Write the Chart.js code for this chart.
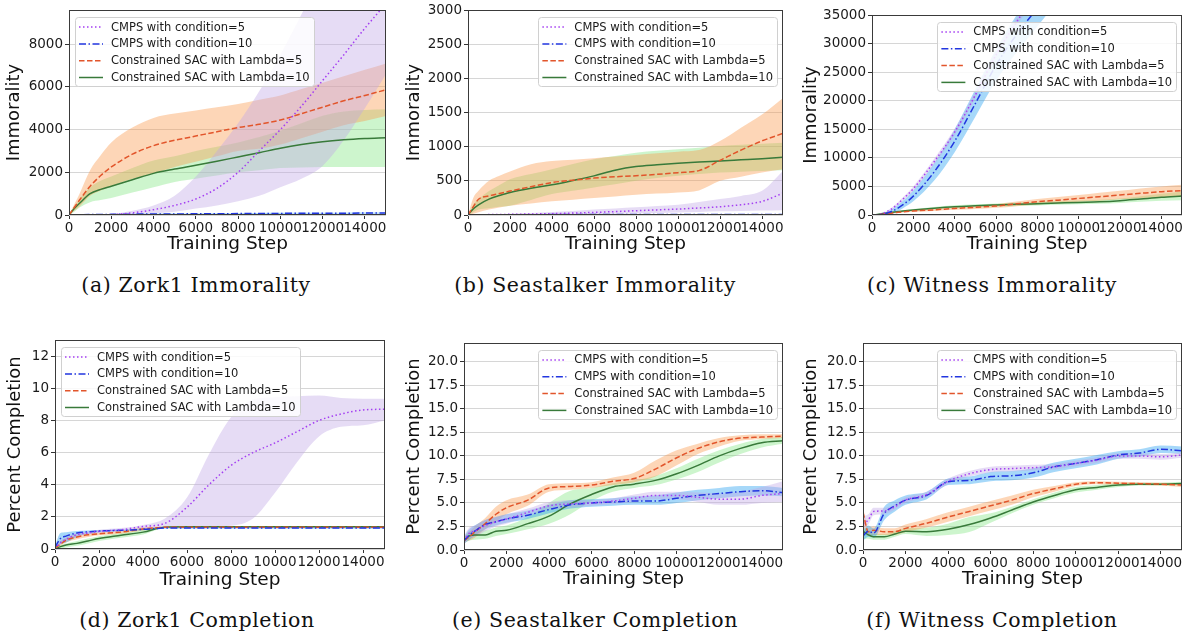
<!DOCTYPE html>
<html>
<head>
<meta charset="utf-8">
<script src="https://cdn.jsdelivr.net/npm/chart.js@4.4.1/dist/chart.umd.min.js"></script>
<style>
  body { margin: 0; background: #fff; }
  #fig { position: relative; width: 1185px; height: 634px; overflow: hidden; }
  canvas { position: absolute; }
  .cap { position: absolute; width: 380px; text-align: center; font-family: "DejaVu Serif", serif; font-size: 20.5px; letter-spacing: 0.6px; color: #111; line-height: 24px; }
</style>
</head>
<body>
<div id="fig">
  <canvas id="zorkImm"></canvas>
  <canvas id="seaImm"></canvas>
  <canvas id="witImm"></canvas>
  <canvas id="zorkComp"></canvas>
  <canvas id="seaComp"></canvas>
  <canvas id="witComp"></canvas>
  <div class="cap" style="left:6px;top:273px">(a) Zork1 Immorality</div>
  <div class="cap" style="left:405px;top:273px">(b) Seastalker Immorality</div>
  <div class="cap" style="left:802px;top:273px">(c) Witness Immorality</div>
  <div class="cap" style="left:7px;top:608px">(d) Zork1 Completion</div>
  <div class="cap" style="left:405px;top:608px">(e) Seastalker Completion</div>
  <div class="cap" style="left:802px;top:608px">(f) Witness Completion</div>
</div>
<script>
// training steps shared by every panel
const steps = [0,250,500,1000,1500,2000,3000,4000,5000,6000,7000,8000,9000,10000,11000,12000,13000,14000,15000]
const seriesNames = ['CMPS with condition=5', 'CMPS with condition=10', 'Constrained SAC with Lambda=5', 'Constrained SAC with Lambda=10']

// tick values
const stepTicks = [0,2000,4000,6000,8000,10000,12000,14000]
const zorkImmTicks = [0,2000,4000,6000,8000]
const seaImmTicks = [0,500,1000,1500,2000,2500,3000]
const witImmTicks = [0,5000,10000,15000,20000,25000,30000,35000]
const zorkCompTicks = [0,2,4,6,8,10,12]
const pctTicks = [0,2.5,5,7.5,10,12.5,15,17.5,20]

// (a) Zork1 immorality
const zorkImm_cmps5    = [0,0,0,5,10,20,100,250,450,750,1250,2000,3000,4000,5100,6300,7500,8750,9900]
const zorkImm_cmps5_lo = [0,0,0,0,0,5,30,80,150,300,450,650,900,1300,1700,2300,3500,5000,6600]
const zorkImm_cmps5_hi = [0,0,0,10,20,40,200,450,900,1800,3000,4300,5800,7500,9400,11500,13500,15500,17000]
const zorkImm_cmps10    = [0,5,10,20,25,30,40,45,50,55,60,65,70,75,80,80,85,90,90]
const zorkImm_cmps10_lo = [0,0,0,5,10,15,20,25,30,35,40,45,50,50,55,55,60,60,60]
const zorkImm_cmps10_hi = [0,10,20,35,40,45,60,65,70,75,80,85,90,100,105,105,110,120,120]
const zorkImm_sac5    = [0,350,700,1350,1850,2250,2850,3250,3500,3700,3900,4100,4250,4450,4750,5050,5350,5600,5870]
const zorkImm_sac5_lo = [0,200,400,900,1150,1350,1700,1950,2250,2500,2750,3000,3100,3300,3600,3900,4200,4400,4640]
const zorkImm_sac5_hi = [0,500,1000,2100,2800,3400,4100,4550,4750,4900,5050,5200,5400,5600,5900,6200,6500,6800,7100]
const zorkImm_sac10    = [0,300,550,1000,1200,1350,1650,1950,2150,2330,2520,2720,2920,3130,3300,3430,3520,3580,3620]
const zorkImm_sac10_lo = [0,150,350,600,700,800,1050,1300,1550,1700,1850,2000,2100,2200,2230,2250,2250,2250,2250]
const zorkImm_sac10_hi = [0,400,750,1300,1600,1800,2200,2550,2750,3000,3200,3400,3650,3950,4300,4650,4850,4920,4950]

// (b) Seastalker immorality
const seaImm_cmps5    = [0,2,4,6,8,10,15,20,28,38,50,63,75,87,103,121,150,199,320]
const seaImm_cmps5_lo = [0,0,0,1,2,3,5,7,10,14,18,22,28,35,45,55,60,65,70]
const seaImm_cmps5_hi = [0,4,8,12,16,20,30,45,60,80,95,112,130,150,190,233,280,354,645]
const seaImm_cmps10    = [0,2,3,4,4,5,5,6,6,6,7,7,7,8,8,8,8,9,9]
const seaImm_cmps10_lo = [0,0,1,2,2,3,3,3,3,3,4,4,4,4,4,4,4,5,5]
const seaImm_cmps10_hi = [0,4,5,6,6,7,7,8,8,9,10,10,10,11,11,12,12,13,13]
const seaImm_sac5    = [0,120,230,280,315,350,415,475,510,540,560,575,595,620,650,800,950,1085,1195]
const seaImm_sac5_lo = [0,20,40,80,110,136,170,200,225,248,272,296,313,330,360,500,560,621,670]
const seaImm_sac5_hi = [0,250,354,500,573,636,743,790,810,830,855,879,903,927,950,1083,1277,1471,1714]
const seaImm_sac10    = [0,90,150,233,285,330,393,442,505,573,655,709,735,757,775,791,808,825,845]
const seaImm_sac10_lo = [0,40,80,100,120,136,220,306,355,403,450,500,540,573,600,621,635,646,655]
const seaImm_sac10_hi = [0,150,230,350,440,524,600,670,745,815,865,913,940,961,985,1010,1027,1044,1058]

// (c) Witness immorality
const witImm_cmps5    = [0,60,250,1200,2800,4600,9300,14500,21000,28000,33800,39000,44000,49000,54000,59000,64000,69000,74000]
const witImm_cmps5_lo = [0,40,180,1000,2500,4200,8800,13900,20400,27300,33100,38300,43300,48300,53300,58300,63300,68300,73300]
const witImm_cmps5_hi = [0,80,320,1400,3100,5000,9800,15100,21600,28700,34500,39700,44700,49700,54700,59700,64700,69700,74700]
const witImm_cmps10    = [0,30,120,700,1800,3300,7500,12900,19500,26200,31600,36200,41000,46000,51000,56000,61000,66000,71000]
const witImm_cmps10_lo = [0,10,40,350,1200,2400,6000,11000,17200,23500,28500,33000,37500,42000,47000,52000,57000,62000,67000]
const witImm_cmps10_hi = [0,60,250,1100,2500,4300,9000,15000,22000,29000,35000,40000,45000,50000,55000,60000,65000,70000,75000]
const witImm_sac5    = [0,50,150,350,550,700,900,1150,1350,1575,1950,2330,2600,2900,3200,3500,3800,4080,4260]
const witImm_sac5_lo = [0,30,110,270,440,550,700,900,1050,1250,1550,1850,2050,2300,2500,2750,2950,3150,3250]
const witImm_sac5_hi = [0,70,190,430,660,850,1100,1400,1650,1900,2350,2800,3150,3500,3900,4250,4650,5000,5300]
const witImm_sac10    = [0,100,250,500,700,875,1200,1460,1620,1750,1870,1980,2090,2200,2300,2500,2800,3100,3330]
const witImm_sac10_lo = [0,70,180,380,550,700,1000,1220,1360,1480,1590,1680,1780,1880,1950,2100,2300,2500,2600]
const witImm_sac10_hi = [0,130,320,620,850,1050,1400,1700,1880,2020,2150,2280,2400,2520,2650,2900,3300,3700,4100]

// (d) Zork1 completion
const zorkComp_cmps5    = [0,0.4,0.6,0.9,1.0,1.1,1.2,1.4,1.6,2.6,4.0,5.2,6.0,6.6,7.3,8.0,8.4,8.65,8.7]
const zorkComp_cmps5_lo = [0,0.3,0.5,0.8,0.9,1.0,1.1,1.25,1.35,1.36,1.4,1.45,1.9,3.5,5.4,7.0,7.6,7.7,8.0]
const zorkComp_cmps5_hi = [0,0.5,0.7,1.0,1.1,1.2,1.3,1.5,1.9,3.2,5.9,8.2,9.3,9.45,9.5,9.55,9.4,9.35,9.35]
const zorkComp_cmps10    = [0.1,0.65,0.8,1.0,1.07,1.12,1.16,1.22,1.3,1.3,1.3,1.3,1.3,1.3,1.3,1.3,1.3,1.3,1.3]
const zorkComp_cmps10_lo = [0,0.3,0.4,0.75,0.95,1.05,1.1,1.16,1.26,1.26,1.26,1.26,1.26,1.26,1.26,1.26,1.26,1.26,1.26]
const zorkComp_cmps10_hi = [0.2,1.0,1.05,1.12,1.15,1.18,1.22,1.28,1.34,1.34,1.34,1.34,1.34,1.34,1.34,1.34,1.34,1.34,1.34]
const zorkComp_sac5    = [0.05,0.3,0.55,0.75,0.88,0.95,1.05,1.25,1.35,1.35,1.35,1.35,1.35,1.35,1.35,1.35,1.35,1.35,1.35]
const zorkComp_sac5_lo = [0,0.2,0.4,0.6,0.75,0.85,0.95,1.15,1.32,1.33,1.33,1.33,1.33,1.33,1.33,1.33,1.33,1.33,1.33]
const zorkComp_sac5_hi = [0.1,0.45,0.7,0.9,1.0,1.05,1.15,1.35,1.38,1.38,1.38,1.38,1.38,1.38,1.38,1.38,1.38,1.38,1.38]
const zorkComp_sac10    = [0,0.15,0.25,0.35,0.5,0.65,0.85,1.05,1.36,1.38,1.38,1.38,1.38,1.38,1.38,1.38,1.38,1.38,1.38]
const zorkComp_sac10_lo = [0,0.05,0.1,0.2,0.35,0.5,0.7,0.9,1.32,1.35,1.35,1.35,1.35,1.35,1.35,1.35,1.35,1.35,1.35]
const zorkComp_sac10_hi = [0,0.25,0.35,0.5,0.65,0.8,1.0,1.2,1.4,1.41,1.41,1.41,1.41,1.41,1.41,1.41,1.41,1.41,1.41]

// (e) Seastalker completion
const seaComp_cmps5    = [1.0,1.8,2.0,2.6,3.0,3.3,4.0,4.7,4.9,5.0,5.2,5.5,5.8,5.8,5.6,5.4,5.4,5.8,6.0]
const seaComp_cmps5_lo = [0.6,1.2,1.4,2.0,2.5,2.8,3.6,4.3,4.5,4.7,4.9,5.1,5.4,5.4,5.1,4.8,4.8,5.0,5.1]
const seaComp_cmps5_hi = [1.5,2.4,2.6,3.2,3.5,3.8,4.4,5.1,5.3,5.3,5.5,5.9,6.2,6.2,6.1,6.0,6.2,6.7,7.3]
const seaComp_cmps10    = [1.0,1.6,2.0,2.7,3.0,3.3,3.7,4.3,4.8,5.0,5.1,5.2,5.2,5.5,5.8,6.0,6.2,6.3,6.1]
const seaComp_cmps10_lo = [0.7,1.1,1.5,2.2,2.6,2.9,3.3,3.9,4.4,4.6,4.7,4.8,4.8,5.0,5.3,5.5,5.7,5.8,5.7]
const seaComp_cmps10_hi = [1.4,2.2,2.6,3.2,3.5,3.8,4.2,4.8,5.3,5.4,5.5,5.7,5.8,6.1,6.4,6.6,6.8,6.8,6.6]
const seaComp_sac5    = [1.0,1.4,1.9,2.8,3.8,4.5,5.3,6.6,6.75,6.9,7.3,7.6,8.6,9.8,10.8,11.5,11.9,12.0,12.1]
const seaComp_sac5_lo = [0.8,1.0,1.3,2.2,3.0,3.8,4.7,6.2,6.4,6.6,6.9,7.2,7.8,9.0,10.2,11.0,11.6,11.8,11.9]
const seaComp_sac5_hi = [1.3,1.9,2.5,3.4,4.6,5.3,5.9,7.0,7.1,7.2,7.7,8.2,9.5,10.6,11.3,11.9,12.2,12.3,12.3]
const seaComp_sac10    = [1.0,1.5,1.6,1.6,2.0,2.1,2.8,3.6,4.9,5.9,6.7,7.0,7.4,8.1,9.0,10.0,10.8,11.4,11.6]
const seaComp_sac10_lo = [0.7,1.0,1.1,1.2,1.5,1.7,2.2,2.8,3.8,5.2,6.2,6.6,6.9,7.5,8.3,9.3,10.2,10.9,11.3]
const seaComp_sac10_hi = [1.3,2.0,2.1,2.1,2.4,2.6,3.5,5.0,6.3,6.6,7.1,7.4,7.9,8.7,9.7,10.6,11.3,11.8,12.0]

// (f) Witness completion
const witComp_cmps5    = [2.8,3.2,4.1,4.15,4.6,5.3,5.9,7.3,8.1,8.55,8.65,8.75,8.85,9.2,9.55,10.0,10.0,9.9,10.1]
const witComp_cmps5_lo = [2.2,2.7,3.7,3.8,4.3,5.0,5.6,7.0,7.8,8.25,8.35,8.45,8.55,8.9,9.25,9.7,9.7,9.6,9.8]
const witComp_cmps5_hi = [3.6,3.8,4.5,4.5,4.9,5.6,6.2,7.6,8.4,8.85,8.95,9.05,9.15,9.5,9.85,10.3,10.3,10.2,10.4]
const witComp_cmps10    = [1.5,2.0,1.8,3.9,4.7,5.3,5.8,7.25,7.4,7.8,7.9,8.2,8.85,9.2,9.6,10.1,10.3,10.7,10.55]
const witComp_cmps10_lo = [1.0,1.4,1.3,3.2,4.1,4.8,5.4,6.9,7.0,7.3,7.4,7.7,8.3,8.7,9.1,9.7,9.9,10.3,10.2]
const witComp_cmps10_hi = [2.0,2.6,2.3,4.6,5.3,5.8,6.2,7.6,7.8,8.3,8.4,8.7,9.3,9.7,10.1,10.5,10.7,11.1,11.0]
const witComp_sac5    = [4.0,1.95,2.1,1.95,1.95,2.3,2.85,3.5,4.1,4.7,5.3,6.0,6.5,7.0,7.15,7.1,7.05,7.0,6.9]
const witComp_sac5_lo = [2.5,1.5,1.6,1.6,1.6,1.9,2.4,3.0,3.6,4.2,4.8,5.6,6.2,6.8,7.0,6.95,6.9,6.85,6.7]
const witComp_sac5_hi = [4.5,2.4,2.5,2.3,2.3,2.7,3.3,4.0,4.6,5.2,5.8,6.4,6.8,7.2,7.3,7.25,7.2,7.15,7.1]
const witComp_sac10    = [2.0,1.6,1.4,1.4,1.7,2.0,1.95,2.2,2.7,3.4,4.25,5.1,5.8,6.4,6.65,6.9,7.0,7.0,7.08]
const witComp_sac10_lo = [1.2,1.2,1.1,1.1,1.4,1.7,1.5,1.6,1.9,2.9,3.9,4.8,5.5,6.1,6.4,6.7,6.85,6.85,6.9]
const witComp_sac10_hi = [2.5,2.0,1.7,1.7,2.0,2.3,2.4,2.8,3.5,3.9,4.6,5.4,6.1,6.7,6.9,7.1,7.15,7.15,7.25]

// line look per series: colour, dash, band colour
const looks = [
  { color: '#a43ff2', dash: [1.5, 2.5], band: 'rgba(192,167,230,0.4)' },
  { color: '#2236e0', dash: [7, 2.5, 1.5, 2.5], band: 'rgba(32,157,240,0.4)' },
  { color: '#e2552b', dash: [5.5, 2.5], band: 'rgba(250,152,75,0.4)' },
  { color: '#387a3a', dash: [], band: 'rgba(130,230,130,0.4)' },
]

Chart.defaults.font.family = '"DejaVu Sans", sans-serif'
Chart.defaults.color = '#1a1a1a'

const pts = arr => steps.map((s, i) => ({ x: s, y: arr[i] }))

// frame round the plot area, like matplotlib spines
const framePlugin = {
  id: 'frame',
  afterDatasetsDraw(chart) {
    const { ctx, chartArea: a } = chart
    ctx.save()
    ctx.strokeStyle = '#3a3a3a'
    ctx.lineWidth = 1
    ctx.strokeRect(Math.round(a.left) + 0.5, Math.round(a.top) + 0.5, Math.round(a.right - a.left) - 1, Math.round(a.bottom - a.top) - 1)
    ctx.restore()
  }
}

// boxed legend inside the axes
const boxLegend = {
  id: 'boxLegend',
  afterDraw(chart, args, opts) {
    const { ctx, chartArea: a } = chart
    const items = chart.data.datasets.filter(d => d.inLegend)
    ctx.save()
    ctx.font = '11.5px "DejaVu Sans"'
    const textW = Math.max(...items.map(d => ctx.measureText(d.label).width))
    const rowH = 16.8
    const w = 4 + 24 + 8 + textW + 4
    const h = 10 + rowH * (items.length - 1) + 9
    const x = opts.side === 'left' ? a.left + 6 : a.right - 6 - w
    const y = a.top + 7
    ctx.fillStyle = 'rgba(255,255,255,0.85)'
    ctx.strokeStyle = '#d0d0d0'
    ctx.lineWidth = 1
    ctx.beginPath()
    ctx.roundRect(Math.round(x) + 0.5, Math.round(y) + 0.5, Math.round(w), Math.round(h), 3)
    ctx.fill()
    ctx.stroke()
    items.forEach((d, i) => {
      const cy = y + 10 + i * rowH
      ctx.strokeStyle = d.borderColor
      ctx.lineWidth = 1.5
      ctx.setLineDash(d.borderDash)
      ctx.beginPath()
      ctx.moveTo(x + 4, cy)
      ctx.lineTo(x + 28, cy)
      ctx.stroke()
      ctx.setLineDash([])
      ctx.fillStyle = '#1a1a1a'
      ctx.textBaseline = 'middle'
      ctx.fillText(d.label, x + 36, cy + 0.5)
    })
    ctx.restore()
  }
}

function makePanel(id, box, series, yOpts) {
  const cv = document.getElementById(id)
  cv.width = box.w
  cv.height = box.h
  cv.style.left = box.left + 'px'
  cv.style.top = box.top + 'px'

  const datasets = []
  series.forEach((s, k) => {
    const lk = looks[k]
    datasets.push({ data: pts(s.hi), borderWidth: 0, pointRadius: 0, fill: '+1', backgroundColor: lk.band, cubicInterpolationMode: 'monotone', order: 5 })
    datasets.push({ data: pts(s.lo), borderWidth: 0, pointRadius: 0, fill: false, cubicInterpolationMode: 'monotone', order: 5 })
  })
  series.forEach((s, k) => {
    const lk = looks[k]
    datasets.push({
      label: seriesNames[k], data: pts(s.mean), inLegend: true,
      borderColor: lk.color, borderDash: lk.dash, borderWidth: 1.5,
      pointRadius: 0, fill: false, cubicInterpolationMode: 'monotone', order: 0
    })
  })

  new Chart(cv, {
    type: 'line',
    data: { datasets },
    plugins: [framePlugin, boxLegend],
    options: {
      responsive: false,
      animation: false,
      layout: { padding: { top: box.T, right: box.R, left: 0, bottom: 0 } },
      plugins: { legend: { display: false }, tooltip: { enabled: false }, boxLegend: { side: box.side } },
      scales: {
        x: {
          type: 'linear', min: 0, max: 15000,
          afterFit: sc => { sc.height = box.B },
          afterBuildTicks: sc => { sc.ticks = stepTicks.map(v => ({ value: v })) },
          grid: { drawOnChartArea: false, drawTicks: true, tickLength: 4, tickColor: '#333' },
          border: { display: false },
          ticks: { autoSkip: false, maxRotation: 0, padding: 1, font: { size: 13.5 }, color: '#1a1a1a', callback: v => String(v) },
          title: { display: true, text: 'Training Step', font: { size: 18.5 }, padding: 0, color: '#111' }
        },
        y: {
          min: 0, max: yOpts.max,
          afterFit: sc => { sc.width = box.L },
          afterBuildTicks: sc => { sc.ticks = yOpts.ticks.map(v => ({ value: v })) },
          grid: { color: '#d6d6d6', lineWidth: 1, drawTicks: true, tickLength: 4, tickColor: '#333' },
          border: { display: false },
          ticks: { autoSkip: false, padding: 2, font: { size: 13.5 }, color: '#1a1a1a', callback: yOpts.fmt },
          title: { display: true, text: yOpts.title, font: { size: 18 }, padding: 0, color: '#111' }
        }
      }
    }
  })
}

const intFmt = v => String(v)
const decFmt = v => v.toFixed(1)

makePanel('zorkImm', { left: 4, top: 0, w: 388, h: 255, L: 65, T: 7, R: 6, B: 40, side: 'left' }, [
  { mean: zorkImm_cmps5, lo: zorkImm_cmps5_lo, hi: zorkImm_cmps5_hi },
  { mean: zorkImm_cmps10, lo: zorkImm_cmps10_lo, hi: zorkImm_cmps10_hi },
  { mean: zorkImm_sac5, lo: zorkImm_sac5_lo, hi: zorkImm_sac5_hi },
  { mean: zorkImm_sac10, lo: zorkImm_sac10_lo, hi: zorkImm_sac10_hi },
], { max: 9600, ticks: zorkImmTicks, fmt: intFmt, title: 'Immorality' })

makePanel('seaImm', { left: 404, top: 0, w: 385, h: 255, L: 64, T: 8, R: 6, B: 40, side: 'right' }, [
  { mean: seaImm_cmps5, lo: seaImm_cmps5_lo, hi: seaImm_cmps5_hi },
  { mean: seaImm_cmps10, lo: seaImm_cmps10_lo, hi: seaImm_cmps10_hi },
  { mean: seaImm_sac5, lo: seaImm_sac5_lo, hi: seaImm_sac5_hi },
  { mean: seaImm_sac10, lo: seaImm_sac10_lo, hi: seaImm_sac10_hi },
], { max: 3000, ticks: seaImmTicks, fmt: intFmt, title: 'Immorality' })

makePanel('witImm', { left: 801, top: 0, w: 384, h: 255, L: 71, T: 15, R: 3, B: 40, side: 'right' }, [
  { mean: witImm_cmps5, lo: witImm_cmps5_lo, hi: witImm_cmps5_hi },
  { mean: witImm_cmps10, lo: witImm_cmps10_lo, hi: witImm_cmps10_hi },
  { mean: witImm_sac5, lo: witImm_sac5_lo, hi: witImm_sac5_hi },
  { mean: witImm_sac10, lo: witImm_sac10_lo, hi: witImm_sac10_hi },
], { max: 35000, ticks: witImmTicks, fmt: intFmt, title: 'Immorality' })

makePanel('zorkComp', { left: 5, top: 330, w: 385, h: 261, L: 50, T: 5, R: 5, B: 42, side: 'left' }, [
  { mean: zorkComp_cmps5, lo: zorkComp_cmps5_lo, hi: zorkComp_cmps5_hi },
  { mean: zorkComp_cmps10, lo: zorkComp_cmps10_lo, hi: zorkComp_cmps10_hi },
  { mean: zorkComp_sac5, lo: zorkComp_sac5_lo, hi: zorkComp_sac5_hi },
  { mean: zorkComp_sac10, lo: zorkComp_sac10_lo, hi: zorkComp_sac10_hi },
], { max: 13, ticks: zorkCompTicks, fmt: intFmt, title: 'Percent Completion' })

makePanel('seaComp', { left: 404, top: 330, w: 385, h: 260, L: 60, T: 13, R: 6, B: 40, side: 'right' }, [
  { mean: seaComp_cmps5, lo: seaComp_cmps5_lo, hi: seaComp_cmps5_hi },
  { mean: seaComp_cmps10, lo: seaComp_cmps10_lo, hi: seaComp_cmps10_hi },
  { mean: seaComp_sac5, lo: seaComp_sac5_lo, hi: seaComp_sac5_hi },
  { mean: seaComp_sac10, lo: seaComp_sac10_lo, hi: seaComp_sac10_hi },
], { max: 22, ticks: pctTicks, fmt: decFmt, title: 'Percent Completion' })

makePanel('witComp', { left: 801, top: 330, w: 384, h: 260, L: 62, T: 13, R: 3, B: 40, side: 'right' }, [
  { mean: witComp_cmps5, lo: witComp_cmps5_lo, hi: witComp_cmps5_hi },
  { mean: witComp_cmps10, lo: witComp_cmps10_lo, hi: witComp_cmps10_hi },
  { mean: witComp_sac5, lo: witComp_sac5_lo, hi: witComp_sac5_hi },
  { mean: witComp_sac10, lo: witComp_sac10_lo, hi: witComp_sac10_hi },
], { max: 22, ticks: pctTicks, fmt: decFmt, title: 'Percent Completion' })
</script>
</body>
</html>
